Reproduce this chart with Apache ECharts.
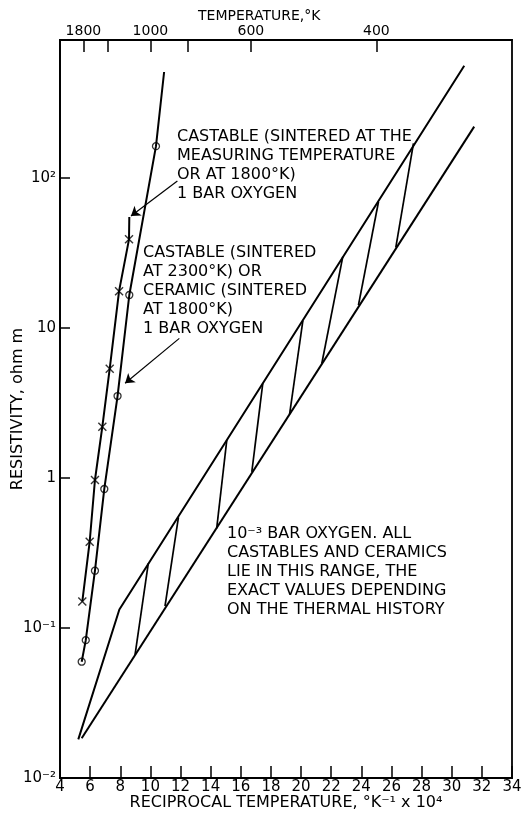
<!DOCTYPE html>
<html>
<head>
<meta charset="utf-8">
<script src="https://cdn.jsdelivr.net/npm/echarts@6/dist/echarts.min.js"></script>
<style>
html, body { margin: 0; padding: 0; background: #fff; }
#chart { width: 522px; height: 821px; }
</style>
</head>
<body>
<div id="chart"></div>
<script>
// 1 bar O2, castable sintered at the measuring temperature (crosses)
var crossX = [5.48, 5.97, 6.32, 6.81, 7.30, 7.92, 8.58];
var crossY = [0.150, 0.376, 0.97, 2.20, 5.36, 17.6, 39.0];
var crossEnd = [8.60, 55];

// 1 bar O2, castable sintered at 2300K / ceramic sintered at 1800K (circles)
var circX = [5.44, 5.71, 6.32, 6.94, 7.82, 8.60, 10.37];
var circY = [0.0596, 0.083, 0.241, 0.845, 3.52, 16.6, 163];
var circEnd = [10.91, 509];

// 1e-3 bar O2 band: upper and lower limits
var upperX = [5.215, 7.94, 30.83];
var upperY = [0.0181, 0.133, 561];
var lowerX = [5.44, 31.49];
var lowerY = [0.0184, 220];

// hatching inside the band (top end on upper limit, bottom end on lower limit)
var hatchTopX = [9.86, 11.86, 15.07, 17.46, 20.12, 22.77, 25.14, 27.46];
var hatchTopY = [0.270, 0.547, 1.79, 4.28, 11.2, 29.9, 69.5, 170];
var hatchBotX = [8.98, 10.97, 14.40, 16.73, 19.24, 21.38, 23.81, 26.29];
var hatchBotY = [0.0661, 0.140, 0.462, 1.10, 2.67, 5.82, 14.2, 34.5];

// top axis, temperature in K
var topTickTemps = [1800, 1400, 1000, 800, 600, 400];
var topLabelTemps = [1800, 1000, 600, 400];

// annotation arrows [from, to]
var arrow1 = [[11.79, 95.5], [8.71, 55.8]];
var arrow2 = [[11.92, 8.53], [8.32, 4.28]];

var FONT = 'DejaVu Sans';
var lineStyle = { color: '#000', width: 2 };

function zip(xs, ys) {
    return xs.map(function (x, i) { return [x, ys[i]]; });
}

function supNum(n) {
    var map = { '-': '\u207B', '0': '\u2070', '1': '\u00B9', '2': '\u00B2', '3': '\u00B3', '4': '\u2074' };
    return String(n).split('').map(function (c) { return map[c]; }).join('');
}

var chart = echarts.init(document.getElementById('chart'));

var series = [{
    type: 'line', data: zip(upperX, upperY), symbol: 'none', lineStyle: lineStyle
}, {
    type: 'line', data: zip(lowerX, lowerY), symbol: 'none', lineStyle: lineStyle
}];

hatchTopX.forEach(function (x, i) {
    series.push({
        type: 'line',
        data: [[x, hatchTopY[i]], [hatchBotX[i], hatchBotY[i]]],
        symbol: 'none',
        lineStyle: { color: '#000', width: 1.7 }
    });
});

series.push({
    type: 'line', data: zip(crossX, crossY).concat([crossEnd]), symbol: 'none', lineStyle: lineStyle,
    markLine: {
        silent: true,
        symbol: ['none', 'arrow'],
        symbolSize: 9,
        label: { show: false },
        lineStyle: { color: '#000', width: 1.2, type: 'solid' },
        data: [
            [{ coord: arrow1[0] }, { coord: arrow1[1] }],
            [{ coord: arrow2[0] }, { coord: arrow2[1] }]
        ]
    }
}, {
    type: 'line', data: zip(circX, circY).concat([circEnd]), symbol: 'none', lineStyle: lineStyle
}, {
    type: 'scatter', data: zip(crossX, crossY),
    symbol: 'path://M0,0L10,10M10,0L0,10', symbolSize: 8,
    itemStyle: { color: 'transparent', borderColor: '#000', borderWidth: 1.4 }
}, {
    type: 'scatter', data: zip(circX, circY),
    symbol: 'circle', symbolSize: 7,
    itemStyle: { color: '#fff', borderColor: '#000', borderWidth: 1.3 }
});

chart.setOption({
    animation: false,
    backgroundColor: '#fff',
    textStyle: { fontFamily: FONT, color: '#000' },
    grid: {
        left: 60, right: 10, top: 40, bottom: 43,
        containLabel: false, outerBoundsMode: 'none',
        show: true, borderColor: '#000', borderWidth: 1.8
    },
    xAxis: [{
        type: 'value', min: 4, max: 34, interval: 2, position: 'bottom',
        name: 'RECIPROCAL TEMPERATURE, \u00B0K\u207B\u00B9 x 10\u2074',
        nameLocation: 'middle', nameGap: 17, nameMoveOverlap: false,
        nameTextStyle: { fontSize: 16, color: '#000', fontFamily: FONT },
        axisLine: { lineStyle: { color: '#000', width: 1.8 } },
        axisTick: { inside: true, length: 12, lineStyle: { color: '#000', width: 1.5 } },
        axisLabel: { fontSize: 15, color: '#000', margin: 2, fontFamily: FONT },
        splitLine: { show: false }
    }, {
        type: 'value', min: 4, max: 34, position: 'top',
        axisLine: { lineStyle: { color: '#000', width: 1.8 } },
        axisTick: {
            inside: true, length: 12, lineStyle: { color: '#000', width: 1.5 },
            customValues: topTickTemps.map(function (t) { return 1e4 / t; })
        },
        axisLabel: {
            fontSize: 14, color: '#000', margin: 2, fontFamily: FONT,
            customValues: topLabelTemps.map(function (t) { return 1e4 / t; }),
            formatter: function (v) { return Math.round(1e4 / v / 100) * 100; }
        },
        splitLine: { show: false }
    }],
    yAxis: {
        type: 'log', logBase: 10, min: 0.01, max: 832,
        name: 'RESISTIVITY, ohm m',
        nameLocation: 'middle', nameGap: 34, nameMoveOverlap: false,
        nameTextStyle: { fontSize: 16, color: '#000', fontFamily: FONT },
        axisLine: { lineStyle: { color: '#000', width: 1.8 } },
        axisTick: { inside: true, length: 10, lineStyle: { color: '#000', width: 1.5 } },
        axisLabel: {
            fontSize: 15, color: '#000', margin: 4, fontFamily: FONT,
            formatter: function (v) {
                var e = Math.log10(v);
                if (Math.abs(e - Math.round(e)) > 1e-6) return '';
                e = Math.round(e);
                if (e === 0) return '1';
                if (e === 1) return '10';
                return '10' + supNum(e);
            }
        },
        splitLine: { show: false }
    },
    graphic: [{
        type: 'text', left: 198, top: 9,
        style: { text: 'TEMPERATURE,\u00B0K', fontSize: 14, fontFamily: FONT, fill: '#000' }
    }, {
        type: 'text', left: 177, top: 127,
        style: {
            text: 'CASTABLE (SINTERED AT THE\nMEASURING TEMPERATURE\nOR AT 1800\u00B0K)\n1 BAR OXYGEN',
            fontSize: 16, fontFamily: FONT, fill: '#000', lineHeight: 19
        }
    }, {
        type: 'text', left: 143, top: 243,
        style: {
            text: 'CASTABLE (SINTERED\nAT 2300\u00B0K) OR\nCERAMIC (SINTERED\nAT 1800\u00B0K)\n1 BAR OXYGEN',
            fontSize: 16, fontFamily: FONT, fill: '#000', lineHeight: 19
        }
    }, {
        type: 'text', left: 227, top: 524,
        style: {
            text: '10\u207B\u00B3 BAR OXYGEN. ALL\nCASTABLES AND CERAMICS\nLIE IN THIS RANGE, THE\nEXACT VALUES DEPENDING\nON THE THERMAL HISTORY',
            fontSize: 16, fontFamily: FONT, fill: '#000', lineHeight: 19
        }
    }],
    series: series
});
</script>
</body>
</html>
